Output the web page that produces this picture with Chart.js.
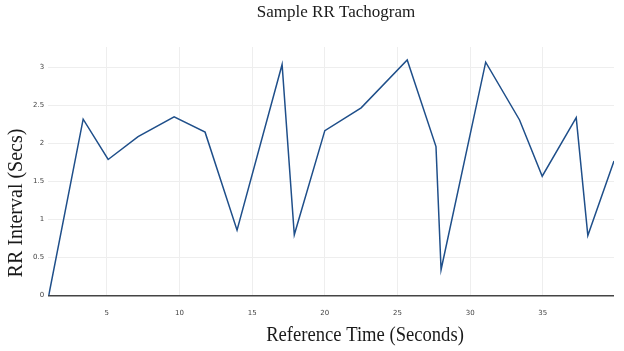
<!DOCTYPE html>
<html>
<head>
<meta charset="utf-8">
<script src="https://cdn.jsdelivr.net/npm/chart.js@4.4.1/dist/chart.umd.min.js"></script>
<style>
  html, body { margin: 0; padding: 0; background: #fff; }
  #wrap { width: 624px; height: 351px; }
</style>
</head>
<body>
<div id="wrap"><canvas id="rrChart"></canvas></div>
<script>
const timeSecs = [1, 3.37, 5.09, 7.15, 9.63, 11.76, 13.96, 17.06, 17.9, 20.0, 22.5, 25.67, 27.65, 28.0, 31.07, 33.4, 34.96, 37.3, 38.1, 39.9];
const rrValues = [0, 2.32, 1.79, 2.09, 2.35, 2.15, 0.86, 3.04, 0.80, 2.17, 2.47, 3.10, 1.96, 0.34, 3.07, 2.31, 1.57, 2.34, 0.79, 1.77];
const xTicks = [5, 10, 15, 20, 25, 30, 35];
const yTicks = [0, 0.5, 1, 1.5, 2, 2.5, 3];

const points = timeSecs.map((t, i) => ({ x: t, y: rrValues[i] }));
const serif = "'Liberation Serif', 'Times New Roman', serif";

// titles are drawn by hand so they sit where the reference has them
const titleText = {
    id: "titleText",
    afterDraw(chart) {
        const ctx = chart.ctx;
        ctx.save();
        ctx.fillStyle = "#1a1a1a";
        ctx.textAlign = "center";
        ctx.textBaseline = "middle";

        ctx.font = "17px " + serif;
        ctx.fillText("Sample RR Tachogram", 336, 13);

        ctx.save();
        ctx.translate(365, 336);
        ctx.scale(0.93, 1);
        ctx.font = "20px " + serif;
        ctx.fillText("Reference Time (Seconds)", 0, 0);
        ctx.restore();

        ctx.save();
        ctx.translate(17, 203);
        ctx.rotate(-Math.PI / 2);
        ctx.font = "20px " + serif;
        ctx.fillText("RR Interval (Secs)", 0, 0);
        ctx.restore();

        ctx.restore();
    },
};

new Chart(document.getElementById("rrChart"), {
    type: "scatter",
    data: {
        datasets: [
            {
                data: points,
                showLine: true,
                borderColor: "#1f4f8a",
                borderWidth: 1.5,
                pointRadius: 0,
                tension: 0,
            },
        ],
    },
    options: {
        responsive: true,
        maintainAspectRatio: false,
        animation: false,
        layout: { padding: { left: 29, right: 10, top: 47, bottom: 21 } },
        plugins: {
            legend: { display: false },
            tooltip: { enabled: false },
            title: { display: false },
        },
        scales: {
            x: {
                type: "linear",
                min: 0.96,
                max: 39.9,
                afterBuildTicks: (axis) => {
                    axis.ticks = xTicks.map((v) => ({ value: v }));
                },
                ticks: {
                    color: "#444",
                    font: { family: "DejaVu Sans", size: 7 },
                    maxRotation: 0,
                    padding: 13,
                },
                grid: { color: "#eeeeee", drawTicks: false },
                border: { display: false },
            },
            y: {
                min: 0,
                max: 3.27,
                afterBuildTicks: (axis) => {
                    axis.ticks = yTicks.map((v) => ({ value: v }));
                },
                ticks: {
                    color: "#444",
                    font: { family: "DejaVu Sans", size: 7 },
                    padding: 4,
                    callback: (v) => String(v),
                },
                grid: {
                    color: (c) => (c.tick && c.tick.value === 0 ? "#444" : "#eeeeee"),
                    lineWidth: (c) => (c.tick && c.tick.value === 0 ? 1.5 : 1),
                    drawTicks: false,
                },
                border: { display: false },
            },
        },
    },
    plugins: [titleText],
});
</script>
</body>
</html>
